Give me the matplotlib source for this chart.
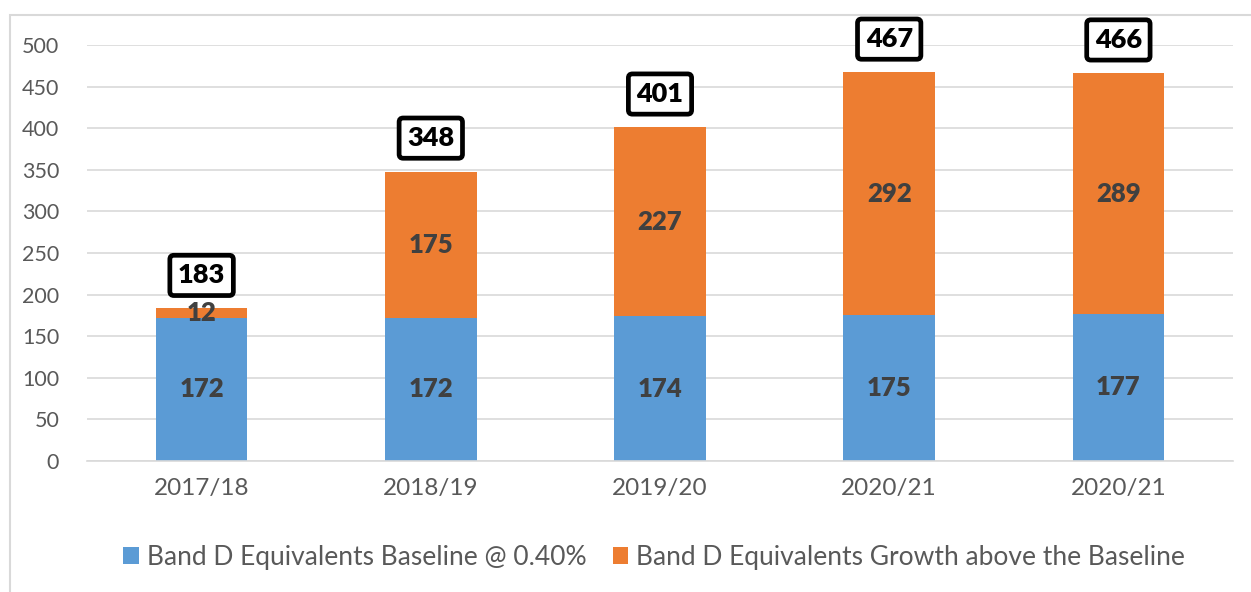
import matplotlib.pyplot as plt
from matplotlib.patches import Rectangle

years = ["2017/18", "2018/19", "2019/20", "2020/21", "2020/21"]
baseline = [172, 172, 174, 175, 177]
growth = [12, 175, 227, 292, 289]
totals = [183, 348, 401, 467, 466]

plt.rcParams['font.family'] = ['Lato', 'DejaVu Sans']

fig = plt.figure(figsize=(12.51, 5.92), dpi=100)
fig.patches.append(Rectangle((10 / 1251, -0.1), 1.2, (592 - 15) / 592 + 0.1,
                             transform=fig.transFigure, fill=False,
                             edgecolor='#D9D9D9', linewidth=1.5))

ax = fig.add_axes([87 / 1251, 131 / 592, 1146 / 1251, 416 / 592])
x = list(range(len(years)))
blue, orange = '#5B9BD5', '#ED7D31'
b1 = ax.bar(x, baseline, width=0.4, color=blue, label='Band D Equivalents Baseline @ 0.40%', zorder=2)
b2 = ax.bar(x, growth, width=0.4, bottom=baseline, color=orange,
            label='Band D Equivalents Growth above the Baseline', zorder=2)

for i in x:
    ax.text(i, baseline[i] / 2, str(baseline[i]), ha='center', va='center',
            fontsize=18.5, fontweight='heavy', color='#404040', zorder=3)
    ax.text(i, baseline[i] + growth[i] / 2, str(growth[i]), ha='center', va='center',
            fontsize=18.5, fontweight='heavy', color='#404040', zorder=3)
    ax.annotate(str(totals[i]), xy=(i, totals[i]), xytext=(0, 24), textcoords='offset points',
                ha='center', va='center', fontsize=19.5, fontweight='heavy', color='black',
                annotation_clip=False, zorder=4,
                bbox=dict(boxstyle='round,pad=0.3,rounding_size=0.15', fc='white', ec='black', lw=3.4))

ax.set_xlim(-0.5, 4.5)
ax.set_ylim(0, 500)
ax.set_yticks(range(0, 501, 50))
ax.yaxis.grid(True, color='#D9D9D9', linewidth=1.2, zorder=0)
ax.set_axisbelow(True)
for s in ax.spines.values():
    s.set_visible(False)
ax.spines['bottom'].set_visible(True)
ax.spines['bottom'].set_color('#D9D9D9')
ax.spines['bottom'].set_linewidth(1.2)
ax.tick_params(length=0, colors='#595959')
ax.tick_params(axis='y', labelsize=15.5, pad=20)
ax.tick_params(axis='x', labelsize=17.5, pad=12)
ax.set_xticks(x)
ax.set_xticklabels(years)

fig.legend(handles=[b1, b2], loc='center', bbox_to_anchor=(654 / 1251, 1 - 557 / 592), ncol=2,
           frameon=False, fontsize=19, labelcolor='#595959', handlelength=0.6, handleheight=0.6,
           handletextpad=0.3, columnspacing=1.0)

fig.savefig('out.png', dpi=100)
